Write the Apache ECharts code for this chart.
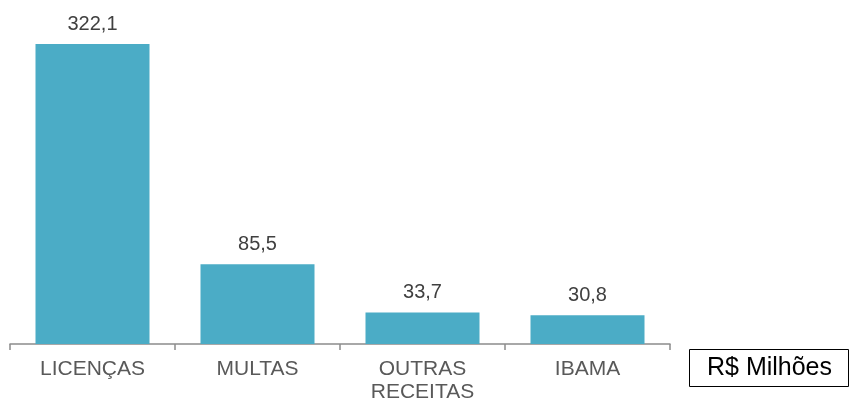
<!DOCTYPE html>
<html>
<head>
<meta charset="utf-8">
<script src="https://cdn.jsdelivr.net/npm/echarts@6/dist/echarts.min.js"></script>
<style>
html,body{margin:0;padding:0;background:#fff;}
#c{width:849px;height:400px;}
</style>
</head>
<body>
<div id="c"></div>
<script>
var categories = ['LICENÇAS', 'MULTAS', 'OUTRAS\nRECEITAS', 'IBAMA'];
var values = [322.1, 85.5, 33.7, 30.8];
var unitLabel = 'R$ Milhões';

var chart = echarts.init(document.getElementById('c'), null, {renderer: 'canvas'});
chart.setOption({
  animation: false,
  backgroundColor: '#ffffff',
  grid: {left: 10, right: 179, top: 44, bottom: 56, containLabel: false, outerBoundsMode: 'none'},
  xAxis: {
    type: 'category',
    data: categories,
    axisLine: {lineStyle: {color: '#8c8c8c', width: 1.5}},
    axisTick: {show: true, length: 6, lineStyle: {color: '#8c8c8c', width: 1.5}},
    axisLabel: {
      color: '#595959', fontSize: 21, fontFamily: 'Liberation Sans, Arial, sans-serif',
      margin: 14, lineHeight: 23, interval: 0
    }
  },
  yAxis: {
    type: 'value', min: 0, max: Math.max.apply(null, values), show: false,
    splitLine: {show: false}
  },
  series: [{
    type: 'bar',
    data: values,
    barWidth: 114,
    itemStyle: {color: '#4BACC6'},
    label: {
      show: true, position: 'top', distance: 10,
      color: '#404040', fontSize: 20, fontFamily: 'Liberation Sans, Arial, sans-serif',
      formatter: function (p) { return p.value.toFixed(1).replace('.', ','); }
    }
  }],
  graphic: [{
    type: 'group', left: 689, top: 349,
    children: [
      {type: 'rect', shape: {x: 0, y: 0, width: 159, height: 37},
       style: {fill: '#fff', stroke: '#000', lineWidth: 1}},
      {type: 'text', x: 80, y: 19,
       style: {text: unitLabel, fill: '#000', fontSize: 25, fontFamily: 'Liberation Sans, Arial, sans-serif',
               textAlign: 'center', textVerticalAlign: 'middle'}}
    ]
  }]
});
</script>
</body>
</html>
